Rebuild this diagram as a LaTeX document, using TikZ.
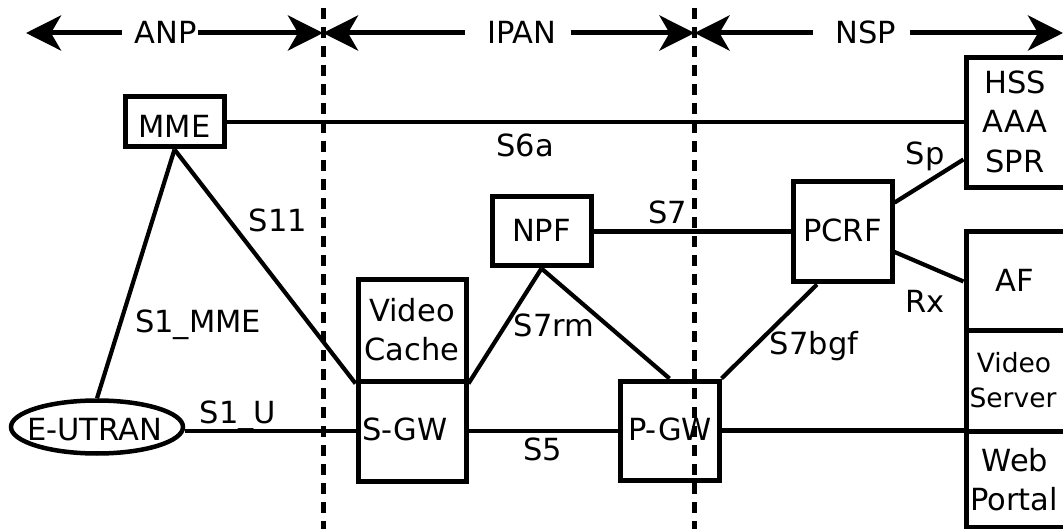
\documentclass[tikz,border=0pt]{standalone}
\usepackage{fontspec}
\setmainfont{DejaVu Sans}
\usetikzlibrary{arrows.meta,calc,shapes.geometric}
\begin{document}
\begin{tikzpicture}[x=1pt,y=-1pt,
  box/.style={draw,rectangle,line width=5pt,inner sep=0pt},
  lbl/.style={anchor=base,inner sep=0pt,font=\fontsize{30.5}{36}\selectfont},
  smalllbl/.style={anchor=base,inner sep=0pt,font=\fontsize{26.5}{32}\selectfont},
  link/.style={line width=4.2pt},
  zone/.style={line width=5pt,-{Stealth[length=35pt,width=35pt,inset=10pt]}},
  sepline/.style={line width=5pt,dash pattern=on 11pt off 8pt}]
\useasboundingbox (0,0) rectangle (1063,529);
% separators
\coordinate (d1top) at (323,8);
\coordinate (d1bot) at (323,529);
\coordinate (d2top) at (694.5,8);
\coordinate (d2bot) at (694.5,529);
\draw[sepline] (d1top) -- (d1bot);
\draw[sepline] (d2top) -- (d2bot);
% zone labels and arrows
\coordinate (leftend) at (26,33);
\coordinate (sepa) at (323,33);
\coordinate (sepb) at (694.5,33);
\coordinate (rightend) at (1063,33);
\node[lbl] (anp) at (166,44) {ANP};
\node[lbl] (ipan) at (522,44) {IPAN};
\node[lbl] (nsp) at (866,44) {NSP};
\draw[zone] ([xshift=-13pt]anp.west |- leftend) -- (leftend);
\draw[zone] ([xshift=1pt]anp.east |- sepa) -- (sepa);
\draw[zone] ([xshift=-22pt]ipan.west |- sepa) -- (sepa);
\draw[zone] ([xshift=14pt]ipan.east |- sepb) -- (sepb);
\draw[zone] ([xshift=-23pt]nsp.west |- sepb) -- (sepb);
\draw[zone] ([xshift=14pt]nsp.east |- rightend) -- (rightend);
% boxes
\node[box,minimum width=99pt,minimum height=50pt] (mme) at (174.5,122) {};
\node[ellipse,draw,line width=4.5pt,inner sep=0pt,minimum width=172pt,minimum height=53pt] (eutran) at (97,427) {};
\node[box,minimum width=108pt,minimum height=101pt] (vc) at (412,330.5) {};
\node[box,minimum width=108pt,minimum height=100pt] (sgw) at (412,431) {};
\node[box,minimum width=99pt,minimum height=69pt] (npf) at (541.5,231.5) {};
\node[box,minimum width=99pt,minimum height=99pt] (pgw) at (669.5,430.5) {};
\node[box,minimum width=99pt,minimum height=100pt] (pcrf) at (842.5,232) {};
\node[box,minimum width=104pt,minimum height=130pt] (hss) at (1018,123) {};
\node[box,minimum width=104pt,minimum height=99pt] (af) at (1018,281.5) {};
\node[box,minimum width=104pt,minimum height=100pt] (vs) at (1018,381) {};
\node[box,minimum width=104pt,minimum height=96pt] (wp) at (1018,479) {};
% box texts
\node[lbl] (tmme) at (174.5,138) {MME};
\node[lbl] (teutran) at (94.5,440) {E-UTRAN};
\node[lbl] (tvc1) at (412,322) {Video};
\node[lbl] (tvc2) at (412,360) {Cache};
\node[lbl] (tsgw) at (405,440) {S-GW};
\node[lbl] (tnpf) at (541.5,242) {NPF};
\node[lbl] (tpgw) at (670,440) {P-GW};
\node[lbl] (tpcrf) at (842.5,242) {PCRF};
\node[lbl] (thss1) at (1015,94) {HSS};
\node[lbl] (thss2) at (1015,133) {AAA};
\node[lbl] (thss3) at (1015,173) {SPR};
\node[lbl] (taf) at (1015,292) {AF};
\node[smalllbl] (tvs1) at (1014,372) {Video};
\node[smalllbl] (tvs2) at (1013,407) {Server};
\node[lbl] (twp1) at (1015,471) {Web};
\node[lbl] (twp2) at (1014,510) {Portal};
% connectors
\draw[link] (mme.east) -- (mme.east -| hss.west);
\draw[link] (mme.south) -- (eutran.north);
\draw[link] (mme.south) -- (vc.south west);
\draw[link] (eutran.east |- sgw.west) -- (sgw.west);
\draw[link] (sgw.east) -- (sgw.east -| pgw.west);
\draw[link] (npf.south) -- (vc.south east);
\draw[link] (npf.south) -- (pgw.north);
\draw[link] (npf.east) -- (npf.east -| pcrf.west);
\draw[link] ($(pcrf.south)+(-25.5,0)$) -- (pgw.north east);
\draw[link] ($(pcrf.north east)!0.22!(pcrf.south east)$) -- ($(hss.north west)!0.77!(hss.south west)$);
\draw[link] ($(pcrf.north east)!0.69!(pcrf.south east)$) -- (af.west);
\draw[link] (pgw.east) -- (pgw.east -| vs.south west);
% connector labels
\node[lbl] (ls6a) at (525,157) {S6a};
\node[lbl] (ls11) at (278,232) {S11};
\node[lbl] (ls1mme) at (198,333) {S1\_MME};
\node[lbl] (ls1u) at (238,423) {S1\_U};
\node[lbl] (ls7rm) at (554,337) {S7rm};
\node[lbl] (ls5) at (543,460) {S5};
\node[lbl] (ls7) at (668,224) {S7};
\node[lbl] (ls7bgf) at (814,355) {S7bgf};
\node[lbl] (lsp) at (925,165) {Sp};
\node[lbl] (lrx) at (925,313) {Rx};
\end{tikzpicture}
\end{document}
